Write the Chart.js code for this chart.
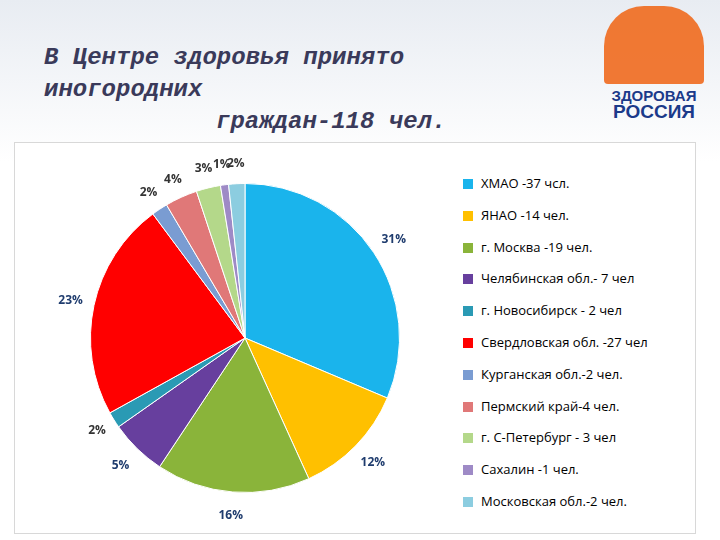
<!DOCTYPE html>
<html><head><meta charset="utf-8">
<script src="https://cdn.jsdelivr.net/npm/chart.js@4"></script>
<style>
body{margin:0;width:720px;height:540px;background:linear-gradient(#e8ecf2,#fff 30%);font-family:"Open Sans",sans-serif;position:relative;overflow:hidden}
#t{position:absolute;left:44px;top:42px;font-family:"Liberation Mono",monospace;font-weight:bold;font-style:italic;font-size:24px;color:#3a3a5a;line-height:32px}
#logo{position:absolute;left:596px;top:0;width:116px;height:125px;text-align:center}
#box{position:absolute;left:14px;top:142px;width:680px;height:390px;background:#fff;border:1px solid #d8d8d8}
#leg{position:absolute;left:448px;top:30px;font-size:13px;color:#000}
#leg div{height:31.8px;line-height:20px;white-space:nowrap}
#leg span{display:inline-block;width:10px;height:10px;margin-right:8px;vertical-align:-1px}
</style></head><body>
<div id="t">В Центре здоровья принято<br>иногородних<br><span style="padding-left:172px">граждан-118 чел.</span></div>
<div id="logo"><div style="height:78px;margin:6px 8px 0;background:#f06a1e;border-radius:40px 40px 4px 4px;opacity:.9"></div>
<div style="font:bold 15px 'Liberation Sans';color:#1b3a8a;margin-top:4px;line-height:16px">ЗДОРОВАЯ<br><span style="font-size:19px">РОССИЯ</span></div></div>
<div id="box"><canvas id="c" width="440" height="390"></canvas><div id="leg"></div></div>
<script>
const categories=["ХМАО -37 чсл.","ЯНАО  -14 чел.","г. Москва -19 чел.","Челябинская обл.- 7 чел","г. Новосибирск - 2 чел","Свердловская обл. -27 чел","Курганская обл.-2 чел.","Пермский край-4 чел.","г. С-Петербург - 3 чел","Сахалин -1 чел.","Московская обл.-2 чел."];
const values=[37,14,19,7,2,27,2,4,3,1,2];
const percents=["31%","12%","16%","5%","2%","23%","2%","4%","3%","1%","2%"];
const colors=["#1ab4ec","#ffc000","#8ab43a","#673f9e","#2a9ab4","#ff0000","#7a9cd2","#e07878","#b4d88a","#9e8ac6","#8ccde0"];
const lbl={id:'lbl',afterDatasetsDraw(ch){const x=ch.ctx;const m=ch.getDatasetMeta(0);x.save();x.font="bold 12px 'Open Sans'";x.textAlign='center';x.textBaseline='middle';
m.data.forEach((a,i)=>{const an=(a.startAngle+a.endAngle)/2;const r=a.outerRadius+(values[i]<5?20:24);x.fillStyle=i<6&&i!=4?'#1f3c6e':'#333';x.fillText(percents[i],a.x+Math.cos(an)*r,a.y+Math.sin(an)*r);});x.restore();}};
new Chart(document.getElementById('c'),{type:'pie',data:{labels:categories,datasets:[{data:values,backgroundColor:colors,borderColor:'#fff',borderWidth:1}]},
options:{responsive:false,animation:false,layout:{padding:{left:40,top:40,bottom:40,right:20}},
plugins:{tooltip:{enabled:false},legend:{display:false}}},plugins:[lbl]});
document.getElementById('leg').innerHTML=categories.map((c,i)=>`<div><span style="background:${colors[i]}"></span>${c}</div>`).join('');
</script></body></html>
